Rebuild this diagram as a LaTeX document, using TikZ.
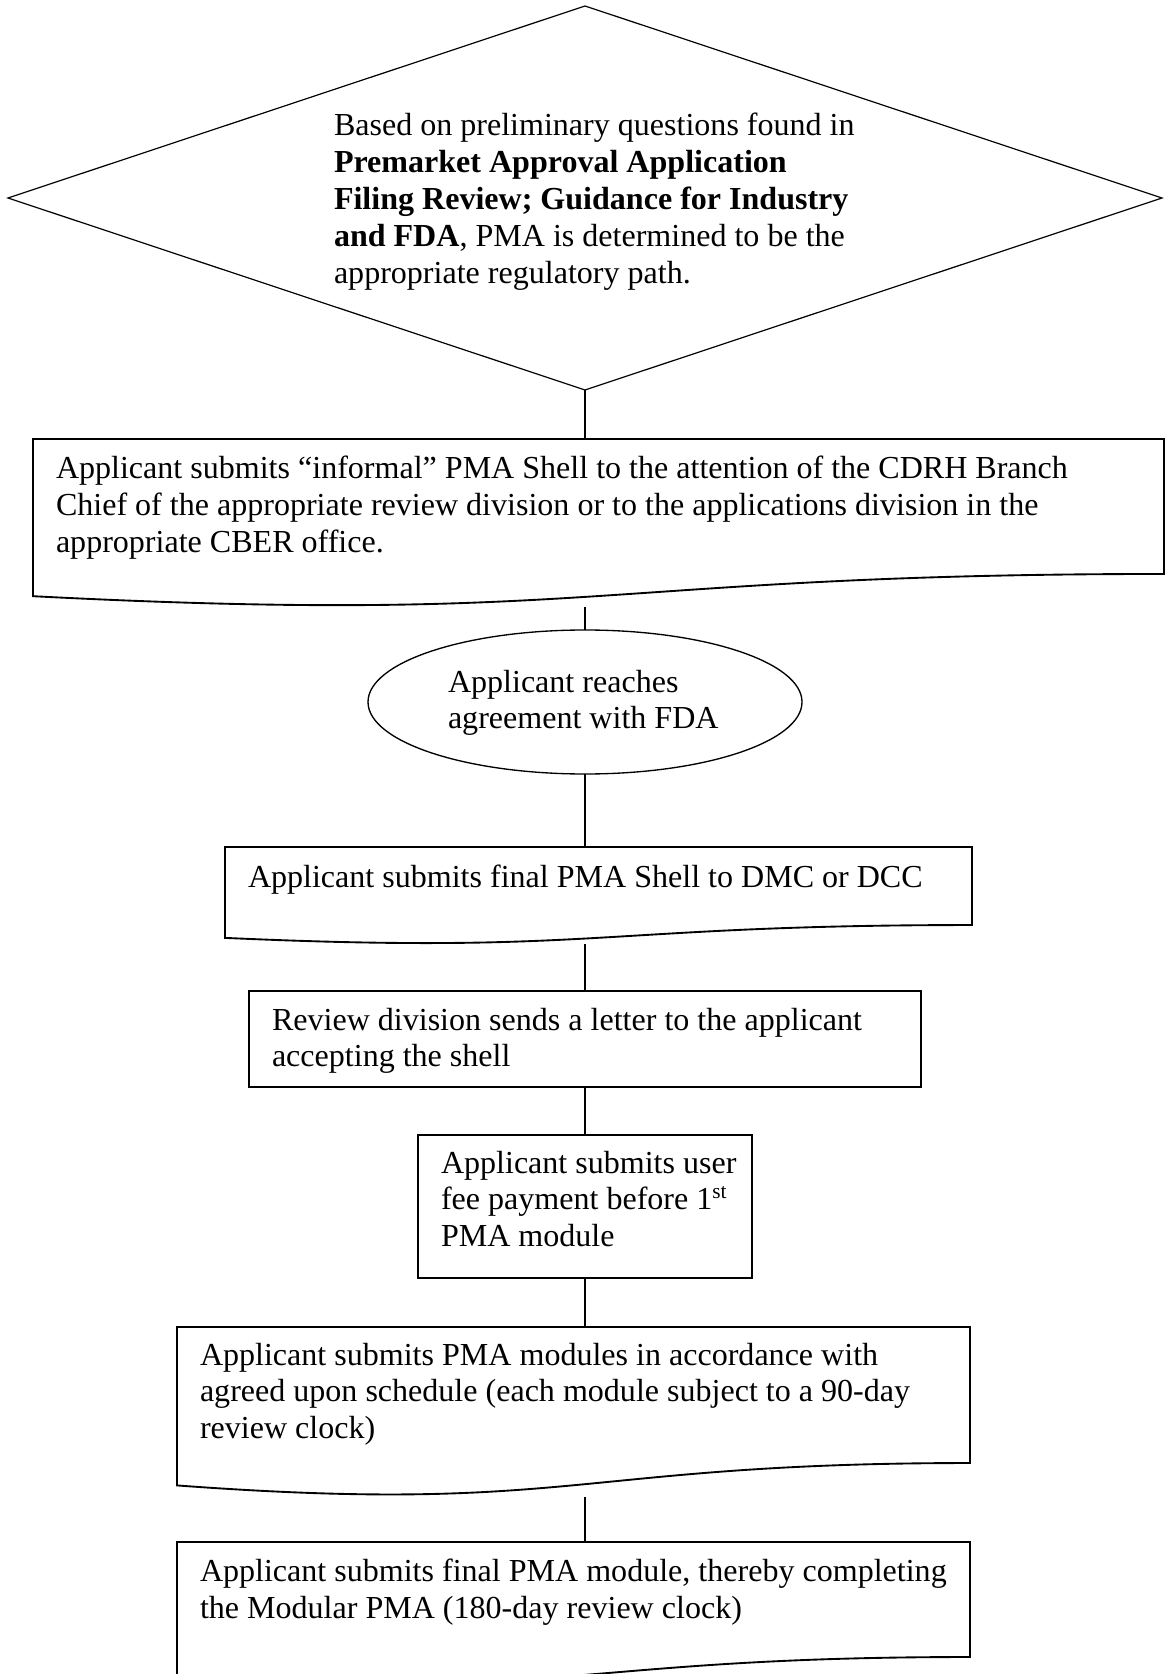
\documentclass[tikz,border=0pt]{standalone}
\usepackage{fontspec}
\setmainfont{Liberation Serif}
\usetikzlibrary{shapes.geometric,calc}
\newcommand\mlines[1]{\begin{tabular}[t]{@{}l@{}}#1\end{tabular}}
\newcommand\docpath[1]{%
  \draw[boxline] (#1.north west) -- (#1.north east)
    -- ($(#1.north east)!0.802!(#1.south east)$)
    .. controls ($(#1.north)!0.802!(#1.south)$) and ($(#1.north)!1.1075!(#1.south)$)
    .. ($(#1.north west)!0.934!(#1.south west)$) -- cycle;}
\tikzset{
  conn/.style={line width=0.4pt},
  boxline/.style={line width=0.7pt, line join=miter},
  frame/.style={rectangle, draw=none, inner sep=0pt, outer sep=0pt},
  rbox/.style={rectangle, draw, line width=0.7pt, inner sep=0pt, outer sep=0pt},
  txt/.style={anchor=base west, inner sep=0pt, outer sep=0pt, font=\fontsize{12}{13.85}\selectfont},
}
\begin{document}
\begin{tikzpicture}[x=0.3745pt, y=-0.3745pt]
\useasboundingbox (0,0) rectangle (1165,1674);

% decision diamond
\node[diamond, draw, line width=0.45pt, inner sep=0pt, outer sep=0pt,
      minimum width={1154*0.3745pt}, minimum height={384*0.3745pt}] (d) at (585,198) {};
\node[txt] (t0) at (334,136) {\mlines{Based on preliminary questions found in\\
\textbf{Premarket Approval Application}\\
\textbf{Filing Review; Guidance for Industry}\\
\textbf{and FDA}, PMA is determined to be the\\
appropriate regulatory path.}};

% box 1 (document)
\node[frame, minimum width={1131*0.3745pt}, minimum height={168.3*0.3745pt}] (b1) at (598.5,523.15) {};
\docpath{b1}
\node[txt] (t1) at (56,479) {\mlines{Applicant submits “informal” PMA Shell to the attention of the CDRH Branch\\
Chief of the appropriate review division or to the applications division in the\\
appropriate CBER office.}};

% ellipse
\node[ellipse, draw, line width=0.5pt, inner sep=0pt, outer sep=0pt,
      minimum width={434*0.3745pt}, minimum height={144*0.3745pt}] (e) at (585,702) {};
\node[txt] (t2) at (448,692) {\mlines{Applicant reaches\\agreement with FDA}};

% box 3 (document)
\node[frame, minimum width={747*0.3745pt}, minimum height={97.3*0.3745pt}] (b3) at (598.5,895.65) {};
\docpath{b3}
\node[txt] (t3) at (248,887) {Applicant submits final PMA Shell to DMC or DCC};

% box 4
\node[rbox, minimum width={672*0.3745pt}, minimum height={96*0.3745pt}] (b4) at (585,1039) {};
\node[txt] (t4) at (272,1030) {\mlines{Review division sends a letter to the applicant\\accepting the shell}};

% box 5
\node[rbox, minimum width={334*0.3745pt}, minimum height={143*0.3745pt}] (b5) at (585,1206.5) {};
\node[txt] (t5) at (441,1173) {\mlines{Applicant submits user\\fee payment before 1\textsuperscript{st}\\PMA module}};

% box 6 (document)
\node[frame, minimum width={793*0.3745pt}, minimum height={169.6*0.3745pt}] (b6) at (573.5,1411.8) {};
\docpath{b6}
\node[txt] (t6) at (200,1365) {\mlines{Applicant submits PMA modules in accordance with\\
agreed upon schedule (each module subject to a 90-day\\
review clock)}};

% box 7 (document)
\node[frame, minimum width={793*0.3745pt}, minimum height={143.4*0.3745pt}] (b7) at (573.5,1613.7) {};
\docpath{b7}
\node[txt] (t7) at (200,1581) {\mlines{Applicant submits final PMA module, thereby completing\\
the Modular PMA (180-day review clock)}};

% connectors
\draw[conn] (d.south) -- (d.south |- b1.north);
\draw[conn] (b1.south -| d.south) -- (e.north);
\draw[conn] (e.south) -- (e.south |- b3.north);
\draw[conn] (b3.south -| d.south) -- (b4.north);
\draw[conn] (b4.south) -- (b5.north);
\draw[conn] (b5.south) -- (b5.south |- b6.north);
\draw[conn] (b6.south -| d.south) -- (b7.north -| d.south);
\end{tikzpicture}
\end{document}
